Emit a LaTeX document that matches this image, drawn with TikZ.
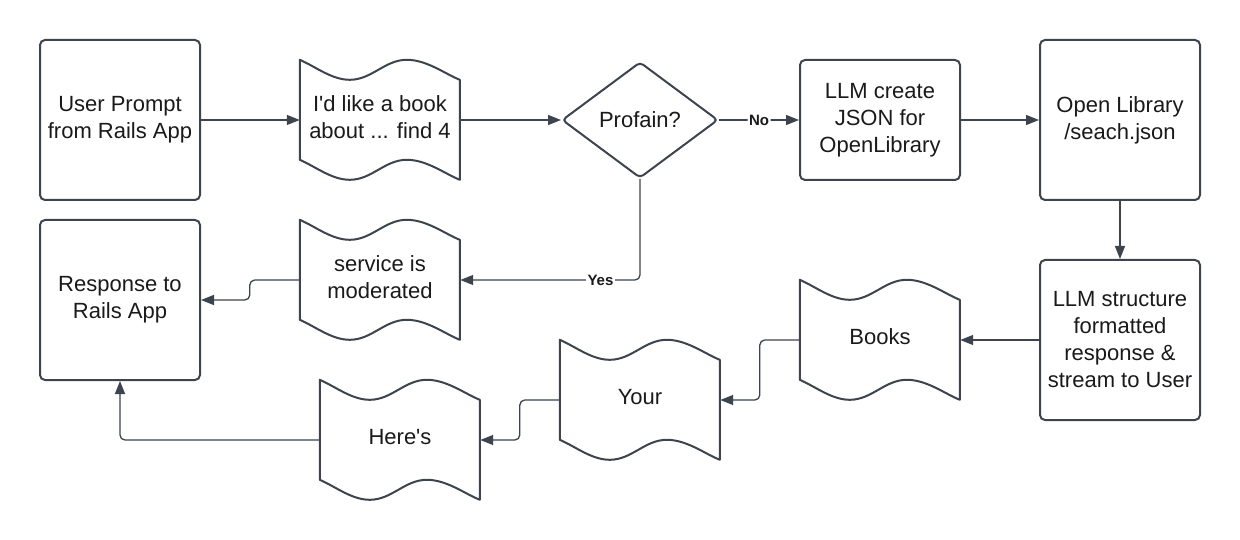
\documentclass[tikz,border=0pt]{standalone}
\usepackage{fontspec}
\setmainfont{Liberation Sans}
\usepackage{tikz}
\usepackage{xcolor}
\usetikzlibrary{arrows.meta, shapes.geometric}
\definecolor{flowline}{HTML}{3D444D}
\definecolor{flowtext}{HTML}{1A1A1A}

\tikzset{
    flowbox/.style = {draw = flowline, line width = 2pt, rounded corners = 5pt, minimum width = 160pt, minimum height = 160pt, align = center, text = flowtext, font = \fontsize{22}{27}\selectfont},
    tapebox/.style = {rectangle, minimum width = 160pt, minimum height = 120pt, inner sep = 0pt, text depth = 6pt, align = center, text = flowtext, font = \fontsize{22}{27}\selectfont},
    decision/.style = {diamond, draw = flowline, line width = 2pt, rounded corners = 4pt, minimum width = 156pt, minimum height = 116pt, inner sep = 0pt, text = flowtext, font = \fontsize{22}{27}\selectfont},
    tapeline/.style = {draw = flowline, line width = 2pt, line join = round},
    link/.style = {draw = flowline, line width = 1.3pt, rounded corners = 5pt, -{Triangle[length = 13pt, width = 10pt]}},
    answer/.style = {fill = white, inner sep = 1.5pt, text = flowtext, font = \fontsize{15}{18}\selectfont\bfseries}
}

% wavy outline round a tape node
\newcommand{\tapeoutline}[1]{%
    \draw [tapeline, shift = {(#1.north west)}] (0, 0) .. controls (16, -7) and (32, -20) .. (50, -20) .. controls (72, -20) and (85, 0) .. (107, 0) .. controls (127, 0) and (145, -14) .. (160, -20) -- (160, -120) .. controls (145, -114) and (127, -100) .. (107, -100) .. controls (85, -100) and (72, -120) .. (50, -120) .. controls (32, -120) and (16, -107) .. (0, -100) -- cycle;}

\begin{document}
\begin{tikzpicture}[x = 1pt, y = 1pt]
        \fill [white] (0, 0) rectangle (1240, -540);
        \useasboundingbox (0, 0) rectangle (1240, -540);

        % Nodes
        \node [flowbox] (user) at (120pt, -120pt) {User Prompt\\from Rails App};
        \node [tapebox] (ask) at (380pt, -120pt) {I\textquotesingle d like a book\\about ... find 4};
        \node [decision] (profain) at (640pt, -120pt) {Profain?};
        \node [flowbox, minimum height = 120pt] (json) at (880pt, -120pt) {LLM create\\JSON for\\OpenLibrary};
        \node [flowbox] (search) at (1120pt, -120pt) {Open Library\\/seach.json};
        \node [flowbox] (structure) at (1120pt, -340pt) {LLM structure\\formatted\\response \&\\stream to User};
        \node [tapebox] (books) at (880pt, -340pt) {Books};
        \node [tapebox] (your) at (640pt, -400pt) {Your};
        \node [tapebox] (heres) at (400pt, -440pt) {Here\textquotesingle s};
        \node [tapebox] (moderated) at (380pt, -280pt) {service is\\moderated};
        \node [flowbox] (response) at (120pt, -300pt) {Response to\\Rails App};

        % Tape outlines
        \tapeoutline{ask}
        \tapeoutline{books}
        \tapeoutline{your}
        \tapeoutline{heres}
        \tapeoutline{moderated}

        % Draw the links
        \draw [link] (user) -- (ask);
        \draw [link] (ask) -- (profain);
        \draw [link] (profain) -- node [answer] {No} (json);
        \draw [link] (json) -- (search);
        \draw [link] (search) -- (structure);
        \draw [link] (structure) -- (books);
        \draw [link] (books.west) -- ++(-40pt, 0pt) |- (your.east);
        \draw [link] (your.west) -- ++(-40pt, 0pt) |- (heres.east);
        \draw [link] (heres.west) -| (response.south);
        \draw [link] (profain.south) |- node [answer, pos = 0.61] {Yes} (moderated.east);
        \draw [link] (moderated.west) -- ++(-50pt, 0pt) |- (response.east);

\end{tikzpicture}
\end{document}
